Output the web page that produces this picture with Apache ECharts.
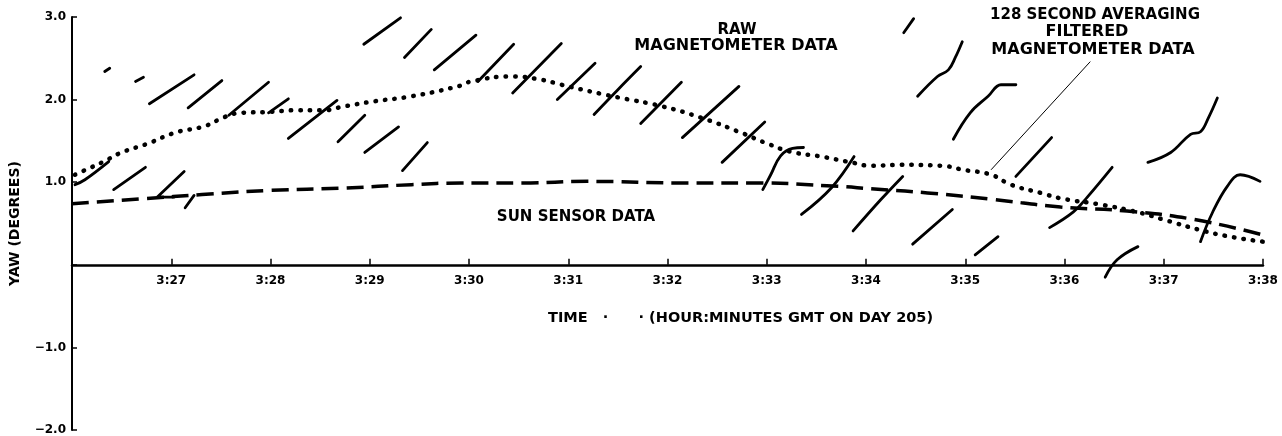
<!DOCTYPE html>
<html>
<head>
<meta charset="utf-8">
<script src="https://cdn.jsdelivr.net/npm/echarts@6/dist/echarts.min.js"></script>
<style>html,body{margin:0;padding:0;background:#fff}#c{width:1282px;height:436px}</style>
</head>
<body>
<div id="c"></div>
<script>
// Time axis: minutes after 3:26 GMT (day 205); values in degrees of yaw
var xTickLabels = ['3:26','3:27','3:28','3:29','3:30','3:31','3:32','3:33','3:34','3:35','3:36','3:37','3:38'];
var yTickLabels = {'-2': '\u22122.0', '-1': '\u22121.0', '0': '', '1': '1.0', '2': '2.0', '3': '3.0'};

// 128 second averaging filtered magnetometer data (dotted)
var filteredData = [
  [0.03,1.09],[0.12,1.14],[0.32,1.25],[0.50,1.36],[0.77,1.47],[1.04,1.60],[1.34,1.68],
  [1.54,1.79],[1.71,1.84],[1.98,1.85],[2.24,1.87],[2.52,1.87],[2.75,1.92],[3.05,1.98],
  [3.42,2.04],[3.92,2.17],[4.02,2.22],[4.43,2.28],[4.73,2.24],[4.93,2.18],[5.33,2.07],
  [5.53,2.02],[5.94,1.92],[6.34,1.78],[6.74,1.60],[6.98,1.48],[7.24,1.37],[7.55,1.31],
  [7.85,1.24],[8.05,1.20],[8.35,1.21],[8.75,1.20],[8.98,1.15],[9.26,1.09],[9.46,0.97],
  [9.76,0.87],[9.98,0.80],[10.36,0.73],[10.76,0.63],[10.99,0.55],[11.37,0.42],[11.67,0.34],
  [12.0,0.28]
];

// Sun sensor data (dashed)
var sunSensorData = [
  [0.0,0.74],[0.73,0.80],[1.31,0.85],[1.98,0.90],[2.75,0.93],[3.42,0.97],[3.92,0.99],
  [4.53,0.99],[5.20,1.01],[6.20,0.99],[6.87,0.99],[7.72,0.95],[8.05,0.92],[8.62,0.87],
  [9.29,0.79],[9.96,0.70],[10.63,0.65],[11.30,0.55],[12.0,0.36]
];

// Raw magnetometer data: separate strokes
var rawSegments = [
  [[0.33,2.34],[0.38,2.38]],
  [[0.64,2.22],[0.72,2.27]],
  [[0.78,1.95],[1.23,2.30]],
  [[1.17,1.90],[1.51,2.23]],
  [[1.58,1.81],[1.98,2.21]],
  [[1.98,1.84],[2.18,2.01]],
  [[2.18,1.53],[2.67,1.99]],
  [[2.68,1.49],[2.95,1.81]],
  [[2.95,1.36],[3.29,1.67]],
  [[3.33,1.14],[3.58,1.48]],
  [[2.94,2.67],[3.31,2.99]],
  [[3.35,2.51],[3.62,2.85]],
  [[3.65,2.36],[4.07,2.78]],
  [[0.03,0.97],[0.13,1.03],[0.37,1.25]],
  [[0.42,0.91],[0.74,1.18]],
  [[1.13,1.13],[0.86,0.82],[1.03,0.82]],
  [[1.14,0.69],[1.23,0.84]],
  [[4.09,2.22],[4.45,2.67]],
  [[4.44,2.08],[4.93,2.68]],
  [[4.89,2.00],[5.27,2.44]],
  [[5.26,1.82],[5.50,2.12],[5.73,2.40]],
  [[5.73,1.71],[6.14,2.21]],
  [[6.15,1.54],[6.72,2.16]],
  [[6.55,1.24],[6.98,1.73]],
  [[6.96,0.91],[7.04,1.09],[7.14,1.32],[7.26,1.41],[7.37,1.42]],
  [[7.35,0.61],[7.65,0.93],[7.88,1.31]],
  [[7.87,0.41],[8.15,0.79],[8.37,1.07]],
  [[8.38,2.81],[8.48,2.98]],
  [[8.52,2.04],[8.72,2.28],[8.83,2.36],[8.90,2.51],[8.97,2.70]],
  [[8.88,1.52],[9.05,1.84],[9.23,2.04],[9.36,2.18],[9.51,2.18]],
  [[9.51,1.07],[9.87,1.54]],
  [[8.47,0.25],[8.87,0.67]],
  [[9.10,0.12],[9.33,0.34]],
  [[9.85,0.45],[10.09,0.64],[10.23,0.82],[10.48,1.18]],
  [[10.41,-0.15],[10.53,0.06],[10.74,0.22]],
  [[10.84,1.24],[11.07,1.36],[11.27,1.58],[11.37,1.61],[11.45,1.78],[11.54,2.02]],
  [[11.37,0.28],[11.49,0.63],[11.64,0.95],[11.77,1.09],[11.97,1.01]]
];

// Leader line from the filtered-data label to its curve
var leaderLine = [[9.26,1.15],[10.26,2.46]];

var FONT = '"DejaVu Sans", "Liberation Sans", sans-serif';
var chart = echarts.init(document.getElementById('c'), null, {renderer: 'canvas'});

var GRID_TOP = 17, GRID_BOTTOM = 6, H = 436;
var plotH = H - GRID_TOP - GRID_BOTTOM;
var Y_MIN = -2, Y_MAX = 3;
// move the time axis (line, ticks, labels) up to yaw = 0
var xAxisOffset = -plotH * (0 - Y_MIN) / (Y_MAX - Y_MIN);

var series = [];
rawSegments.forEach(function (seg) {
  series.push({
    type: 'line', data: seg, showSymbol: false, smooth: seg.length > 2 ? 0.4 : false,
    lineStyle: {color: '#000', width: 2.8, cap: 'round'}, silent: true, z: 3
  });
});
series.push({
  type: 'line', data: filteredData, smooth: true, showSymbol: false, silent: true, z: 4,
  lineStyle: {color: '#000', width: 4.5, type: [0.5, 9], cap: 'round'}
});
series.push({
  type: 'line', data: sunSensorData, smooth: true, showSymbol: false, silent: true, z: 4,
  lineStyle: {color: '#000', width: 3.5, type: [17, 8]}
});
series.push({
  type: 'line', data: leaderLine, showSymbol: false, silent: true, z: 2,
  lineStyle: {color: '#000', width: 1}
});

function txt(x, y, s, size, align) {
  return {
    type: 'text', x: x, y: y, silent: true,
    style: {text: s, fill: '#000', font: 'bold ' + size + 'px ' + FONT,
      textAlign: align || 'center', textVerticalAlign: 'middle'}
  };
}

chart.setOption({
  animation: false,
  backgroundColor: '#fff',
  grid: {left: 70, right: 19, top: GRID_TOP, bottom: GRID_BOTTOM, containLabel: false},
  xAxis: {
    type: 'value', min: 0, max: 12, interval: 1, position: 'bottom', offset: xAxisOffset,
    axisLine: {onZero: false, lineStyle: {color: '#000', width: 2.5}},
    axisTick: {inside: true, length: 6, lineStyle: {color: '#000', width: 1.5}},
    axisLabel: {
      margin: 10, color: '#000', fontFamily: FONT, fontWeight: 'bold', fontSize: 12,
      formatter: function (v) { return v === 0 ? '' : xTickLabels[Math.round(v)]; }
    },
    splitLine: {show: false}
  },
  yAxis: {
    type: 'value', min: Y_MIN, max: Y_MAX, interval: 1,
    name: 'YAW (DEGREES)', nameLocation: 'middle', nameGap: 50, nameRotate: 90,
    nameTextStyle: {color: '#000', fontFamily: FONT, fontWeight: 'bold', fontSize: 14},
    axisLine: {show: true, onZero: false, lineStyle: {color: '#000', width: 2}},
    axisTick: {show: true, inside: true, length: 5, lineStyle: {color: '#000', width: 1.5}},
    axisLabel: {
      margin: 6, color: '#000', fontFamily: FONT, fontWeight: 'bold', fontSize: 12,
      formatter: function (v) { return yTickLabels[String(Math.round(v))]; }
    },
    splitLine: {show: false}
  },
  graphic: [
    txt(737, 30, 'RAW', 15),
    txt(736, 46, 'MAGNETOMETER DATA', 16),
    txt(576, 217, 'SUN SENSOR DATA', 15),
    txt(1095, 15, '128 SECOND AVERAGING', 15),
    txt(1087, 32, 'FILTERED', 16),
    txt(1093, 50, 'MAGNETOMETER DATA', 16),
    txt(548, 318, 'TIME   \u00b7      \u00b7 (HOUR:MINUTES GMT ON DAY 205)', 14.5, 'left')
  ],
  series: series
});
</script>
</body>
</html>
